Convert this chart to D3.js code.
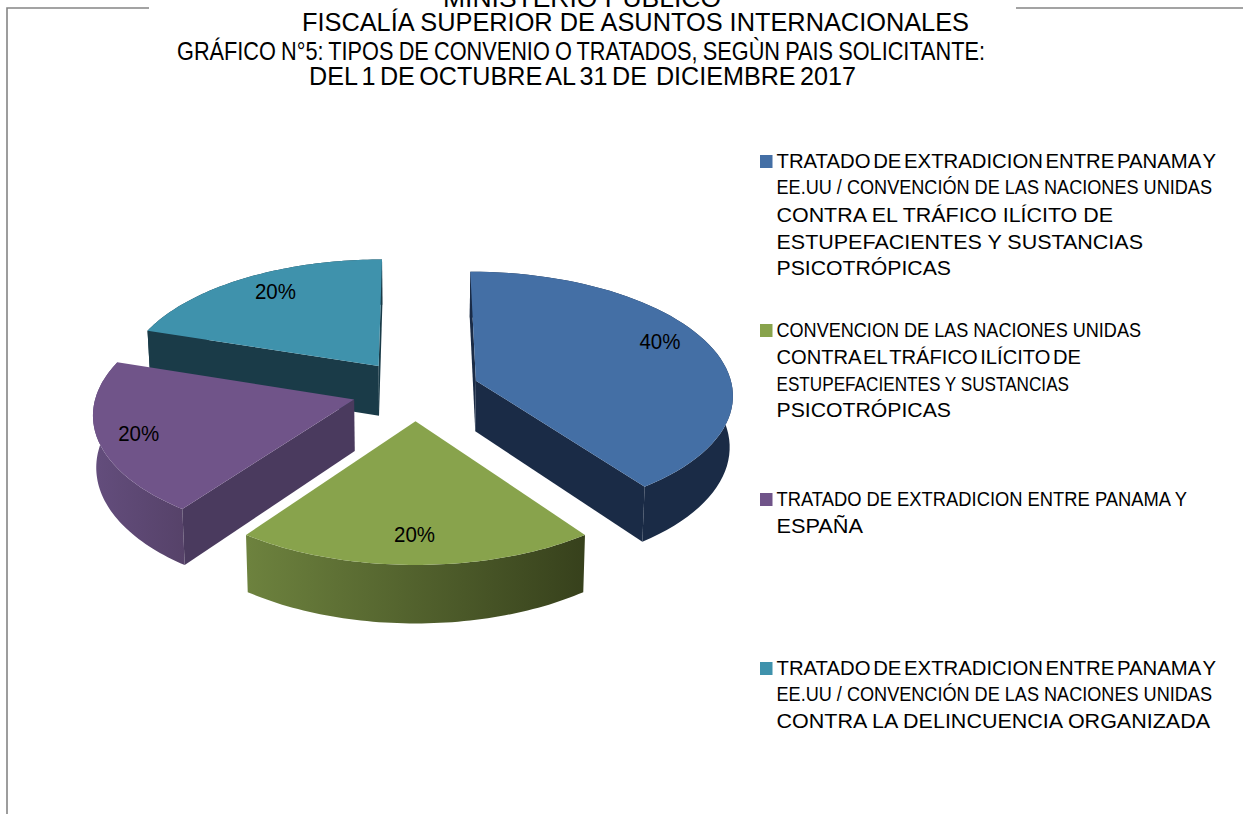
<!DOCTYPE html>
<html><head><meta charset="utf-8">
<script src="https://cdn.jsdelivr.net/npm/d3@7/dist/d3.min.js"></script>
<style>html,body{margin:0;padding:0;background:#fff;overflow:hidden}svg{display:block}text{font-family:"Liberation Sans",Arial,sans-serif;fill:#000;white-space:pre}</style>
</head><body><svg id="c" width="1243" height="814"></svg>
<script>
const values = [40, 20, 20, 20];
const percentLabels = ["40%", "20%", "20%", "20%"];
const titleLines = ["MINISTERIO PUBLICO","FISCALÍA SUPERIOR DE ASUNTOS INTERNACIONALES","GRÁFICO N°5: TIPOS DE CONVENIO O TRATADOS, SEGÙN PAIS SOLICITANTE:","DEL 1 DE OCTUBRE AL 31 DE  DICIEMBRE 2017"];
const legendLines = [
 ["TRATADO DE EXTRADICION ENTRE PANAMA Y","EE.UU / CONVENCIÓN DE LAS NACIONES UNIDAS","CONTRA EL TRÁFICO ILÍCITO DE","ESTUPEFACIENTES Y SUSTANCIAS","PSICOTRÓPICAS"],
 ["CONVENCION DE LAS NACIONES UNIDAS","CONTRA EL TRÁFICO ILÍCITO DE","ESTUPEFACIENTES Y SUSTANCIAS","PSICOTRÓPICAS"],
 ["TRATADO DE EXTRADICION ENTRE PANAMA Y","ESPAÑA"],
 ["TRATADO DE EXTRADICION ENTRE PANAMA Y","EE.UU / CONVENCIÓN DE LAS NACIONES UNIDAS","CONTRA LA DELINCUENCIA ORGANIZADA"]
];
const topColors = ["#446fa5","#88a34c","#705489","#3f92ac"];
const faceColors = ["#1a2b46","#37411c","#4a3a5e","#1a3b48"];
const wallStops = [["#1a2b46","#1a2b46"],["#6d823e","#37411c"],["#634d7c","#564269"],["#1a3b48","#1a3b48"]];

// layout
const titleLayout = [[443,721,7,25,0],[302,969,31,25,0],[177,985,60,25,-1],[309,856,85,25,-2.5]];
const legendBase = [[168,194,222,249,275],[337,364,391,417],[506,533],[675,701,728]];
const legendRight = [[1216,1212,1113,1143,951],[1141,1081,1069,951],[1187,863],[1216,1212,1210]];
const legendSpacing = [[-3,0,0,0,0],[0,-3,0,0],[0,0],[-3,0,0]];
const labelNudge = [[-6,-10],[-1,-1],[-9,2],[7,-3]];
const cx=415.5, cy=390, R=257, EX=64, K=0.475, P=0.0004, D=51, SHRINK=0.0002, LABEL=0.81;

const svg = d3.select("#c");
const defs = svg.append("defs");
const proj = (X,Y,Z)=>{const s=1/(1+Y*P);return [cx+X*s*(1-Z*SHRINK), cy-Y*K*s+Z*s];};
const pie = d3.pie().sort(null)(values);
const line = d3.line();

svg.append("path").attr("d","M149,8H7V814M1016,8H1243").attr("fill","none").attr("stroke","#858585").attr("stroke-width",1.6);

function pt(mid,a,rad,Z){
  const ox=EX*Math.sin(mid), oy=EX*Math.cos(mid);
  return proj(ox+rad*Math.sin(a), oy+rad*Math.cos(a), Z);
}
const order=[3,2,0,1];
order.forEach(i=>{
  const d=pie[i], mid=(d.startAngle+d.endAngle)/2, g=svg.append("g");
  const angs=d3.range(0,61).map(t=>d.startAngle+(d.endAngle-d.startAngle)*t/60);
  const top=angs.map(a=>pt(mid,a,R,0)), bot=angs.map(a=>pt(mid,a,R,D));
  const xs=d3.extent(bot,p=>p[0]);
  const gid="w"+i;
  const lg=defs.append("linearGradient").attr("id",gid).attr("gradientUnits","userSpaceOnUse").attr("x1",xs[0]).attr("x2",xs[1]).attr("y1",0).attr("y2",0);
  lg.append("stop").attr("offset",0).attr("stop-color",wallStops[i][0]);
  lg.append("stop").attr("offset",1).attr("stop-color",wallStops[i][1]);
  g.append("path").attr("d",line(top.concat(bot.slice().reverse()))+"Z").attr("fill",`url(#${gid})`);
  const apex=pt(mid,0,0,0), inner=pt(mid,mid,R,0);
  [d.startAngle,d.endAngle].forEach(a=>{
    const rim=pt(mid,a,R,0);
    const dx=rim[0]-apex[0], dy=rim[1]-apex[1];
    const cross=dx*(inner[1]-apex[1])-dy*(inner[0]-apex[0]);
    const above = dx>=0 ? cross<0 : cross>0;
    if(above) g.append("path").attr("d",line([apex,rim,pt(mid,a,R,D),pt(mid,a,0,D)])+"Z").attr("fill",faceColors[i]);
  });
  g.append("path").attr("d",line([apex].concat(top))+"Z").attr("fill",topColors[i]);
});
pie.forEach((d,i)=>{
  const mid=(d.startAngle+d.endAngle)/2, p=pt(mid,mid,R*LABEL,0);
  svg.append("text").attr("x",p[0]+labelNudge[i][0]).attr("y",p[1]+8+labelNudge[i][1]).attr("text-anchor","middle").attr("font-size",22).attr("textLength",41).attr("lengthAdjust","spacingAndGlyphs").text(percentLabels[i]);
});
titleLines.forEach((t,i)=>{
  const l=titleLayout[i];
  svg.append("text").attr("x",l[0]).attr("y",l[2]).attr("font-size",l[3]).style("word-spacing",l[4]+"px").attr("textLength",l[1]-l[0]).attr("lengthAdjust","spacingAndGlyphs").text(t);
});
legendLines.forEach((ls,i)=>{
  svg.append("rect").attr("x",760).attr("y",legendBase[i][0]-13).attr("width",12.5).attr("height",13).attr("fill",topColors[i]);
  ls.forEach((t,j)=>{
    svg.append("text").attr("x",776.5).attr("y",legendBase[i][j]).attr("font-size",20.5).style("word-spacing",legendSpacing[i][j]+"px").attr("textLength",legendRight[i][j]-776.5).attr("lengthAdjust","spacingAndGlyphs").text(t);
  });
});
</script></body></html>
